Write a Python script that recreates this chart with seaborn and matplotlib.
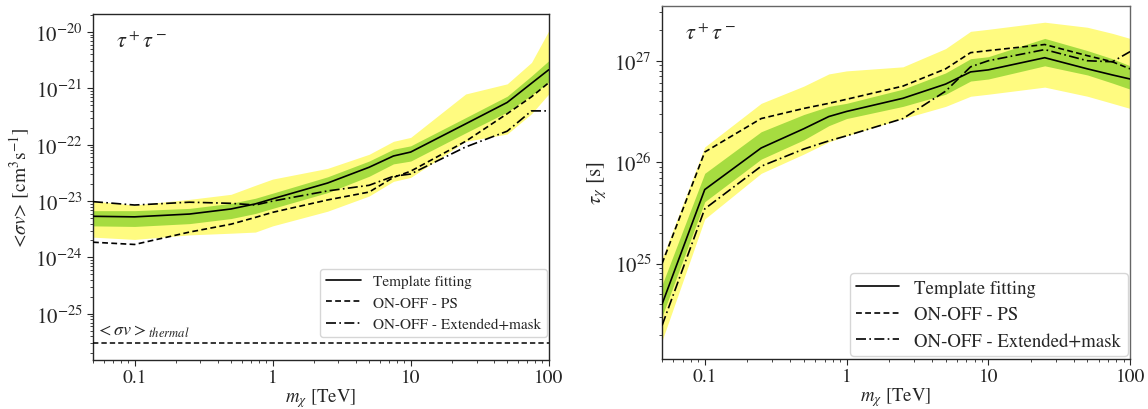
import numpy as np
import pandas as pd
import matplotlib
matplotlib.use("Agg")
import matplotlib.pyplot as plt
from matplotlib.ticker import FixedLocator, FixedFormatter, LogLocator, NullFormatter, LogFormatterSciNotation
import seaborn as sns

# ---------------- data ----------------
mass = [0.05, 0.1, 0.25, 0.5, 0.75, 1, 2.5, 5, 7.5, 10, 25, 50, 75, 100]

# annihilation cross section <sigma v> (cm^3 s^-1), log10 values
sv_median = [-23.27, -23.28, -23.23, -23.14, -23.05, -22.96, -22.68, -22.40, -22.20, -22.13, -21.63, -21.25, -20.91, -20.67]
sv_1s_hi = [-23.17, -23.17, -23.13, -23.04, -22.95, -22.86, -22.57, -22.29, -22.08, -22.02, -21.52, -21.14, -20.78, -20.51]
sv_1s_lo = [-23.44, -23.45, -23.40, -23.31, -23.22, -23.13, -22.85, -22.56, -22.34, -22.29, -21.79, -21.42, -21.12, -20.89]
sv_2s_hi = [-23.00, -23.07, -22.97, -22.88, -22.72, -22.61, -22.42, -22.17, -21.94, -21.87, -21.10, -20.92, -20.54, -19.98]
sv_2s_lo = [-23.64, -23.68, -23.60, -23.57, -23.55, -23.44, -23.18, -22.91, -22.65, -22.58, -21.94, -21.81, -21.45, -21.10]
sv_onoff_ps = [-23.73, -23.77, -23.55, -23.41, -23.29, -23.20, -22.98, -22.84, -22.58, -22.47, -21.94, -21.45, -21.15, -20.90]
sv_onoff_ext = [-23.01, -23.07, -23.02, -23.04, -23.07, -23.00, -22.82, -22.72, -22.56, -22.52, -22.04, -21.76, -21.40, -21.40]
sv_thermal = 3e-26
sv_yticks = [1e-25, 1e-24, 1e-23, 1e-22, 1e-21, 1e-20]

# lifetime tau (s), log10 values
tau_median = [24.60, 25.73, 26.14, 26.33, 26.45, 26.50, 26.63, 26.77, 26.89, 26.91, 27.03, 26.92, 26.86, 26.82]
tau_1s_hi = [24.79, 25.89, 26.30, 26.47, 26.55, 26.58, 26.72, 26.88, 27.02, 27.04, 27.22, 27.10, 27.02, 26.95]
tau_1s_lo = [24.48, 25.61, 26.03, 26.22, 26.36, 26.43, 26.55, 26.67, 26.80, 26.82, 26.95, 26.86, 26.78, 26.72]
tau_2s_hi = [25.05, 26.15, 26.58, 26.75, 26.87, 26.90, 26.94, 27.12, 27.29, 27.31, 27.38, 27.33, 27.27, 27.22]
tau_2s_lo = [24.24, 25.44, 25.89, 26.08, 26.20, 26.26, 26.43, 26.55, 26.65, 26.67, 26.74, 26.65, 26.58, 26.53]
tau_onoff_ps = [25.00, 26.10, 26.43, 26.53, 26.58, 26.62, 26.75, 26.92, 27.08, 27.10, 27.16, 27.05, 26.99, 26.92]
tau_onoff_ext = [24.39, 25.54, 25.96, 26.13, 26.21, 26.26, 26.43, 26.70, 26.94, 27.00, 27.11, 27.00, 26.99, 27.09]
tau_yticks = [1e25, 1e26, 1e27]

labels = ["Template fitting", "ON-OFF - PS", "ON-OFF - Extended+mask"]
channel = r"$\tau^+\tau^-$"
xticks = [0.1, 1, 10, 100]
xticklabels = ["0.1", "1", "10", "100"]

# ---------------- style ----------------
sns.set_style("ticks")
plt.rcParams["font.family"] = ["STIXGeneral", "DejaVu Serif"]
plt.rcParams["mathtext.fontset"] = "stix"

YELLOW = "#fffb80"
GREEN = "#a6dc40"

fig = plt.figure(figsize=(11.48, 4.10), dpi=100)
axL = fig.add_axes([0.081, 0.1195, 0.397, 0.844])
axR = fig.add_axes([0.5767, 0.122, 0.4077, 0.861])


def p10(a):
    return 10 ** np.asarray(a, dtype=float)


def draw(ax, med, s1lo, s1hi, s2lo, s2hi, ps, ext, yticks):
    m = np.asarray(mass)
    ax.fill_between(m, p10(s2lo), p10(s2hi), color=YELLOW, lw=0, zorder=1)
    ax.fill_between(m, p10(s1lo), p10(s1hi), color=GREEN, lw=0, zorder=2)
    df = pd.DataFrame({"m": m, "med": p10(med), "ps": p10(ps), "ext": p10(ext)})
    sns.lineplot(data=df, x="m", y="med", ax=ax, color="k", lw=1.2, label=labels[0], zorder=5)
    sns.lineplot(data=df, x="m", y="ps", ax=ax, color="k", lw=1.2, ls=(0, (3.5, 2)), label=labels[1], zorder=5)
    sns.lineplot(data=df, x="m", y="ext", ax=ax, color="k", lw=1.2, ls=(0, (6, 2, 1, 2)), label=labels[2], zorder=5)
    ax.set_xscale("log")
    ax.set_yscale("log")
    ax.set_xlim(0.05, 100)
    ax.xaxis.set_major_locator(FixedLocator(xticks))
    ax.xaxis.set_major_formatter(FixedFormatter(xticklabels))
    ax.xaxis.set_minor_locator(LogLocator(base=10, subs=np.arange(2, 10)))
    ax.xaxis.set_minor_formatter(NullFormatter())
    ax.yaxis.set_major_locator(FixedLocator(yticks))
    ax.yaxis.set_major_formatter(LogFormatterSciNotation())
    ax.yaxis.set_minor_locator(LogLocator(base=10, subs=np.arange(2, 10), numticks=50))
    ax.yaxis.set_minor_formatter(NullFormatter())
    ax.tick_params(axis="y", which="major", labelsize=15, length=4, width=0.8)
    ax.tick_params(axis="x", which="major", labelsize=14, length=4, width=0.8, pad=2.5)
    ax.tick_params(axis="both", which="minor", length=2, width=0.6)
    ax.set_xlabel(r"$m_\chi$ [TeV]", fontsize=13.5, labelpad=0)
    ax.text(0.05, 0.95, channel, transform=ax.transAxes, fontsize=16, va="top", ha="left")
    for s in ax.spines.values():
        s.set_visible(True)
        s.set_linewidth(1.0)


draw(axL, sv_median, sv_1s_lo, sv_1s_hi, sv_2s_lo, sv_2s_hi, sv_onoff_ps, sv_onoff_ext, sv_yticks)
axL.axhline(sv_thermal, color="k", lw=1.1, ls=(0, (3.5, 2)), zorder=4)
axL.text(0.053, 3.6e-26, r"$<\sigma v>_{thermal}$", fontsize=13, va="bottom", ha="left")
axL.set_ylim(10 ** -25.82, 10 ** -19.68)
axL.set_ylabel(r"<$\sigma v$> [cm$^3$s$^{-1}$]", fontsize=14, labelpad=2)
axL.legend(loc="lower right", bbox_to_anchor=(0.997, 0.066), borderaxespad=0,
           fontsize=11, frameon=True, fancybox=True, framealpha=0.8,
           edgecolor="#cccccc", handlelength=2.3, labelspacing=0.5)

draw(axR, tau_median, tau_1s_lo, tau_1s_hi, tau_2s_lo, tau_2s_hi, tau_onoff_ps, tau_onoff_ext, tau_yticks)
axR.set_ylim(10 ** 24.06, 10 ** 27.54)
axR.set_ylabel(r"$\tau_\chi$ [s]", fontsize=15, labelpad=4)
axR.legend(loc="lower right", bbox_to_anchor=(0.995, 0.008), borderaxespad=0,
           fontsize=13.5, frameon=True, fancybox=True, framealpha=0.8,
           edgecolor="#cccccc", handlelength=2.3, labelspacing=0.5, borderpad=0.35)
for side in ["top", "right"]:
    axR.spines[side].set_color("#666666")

fig.savefig("out.png", dpi=100)
